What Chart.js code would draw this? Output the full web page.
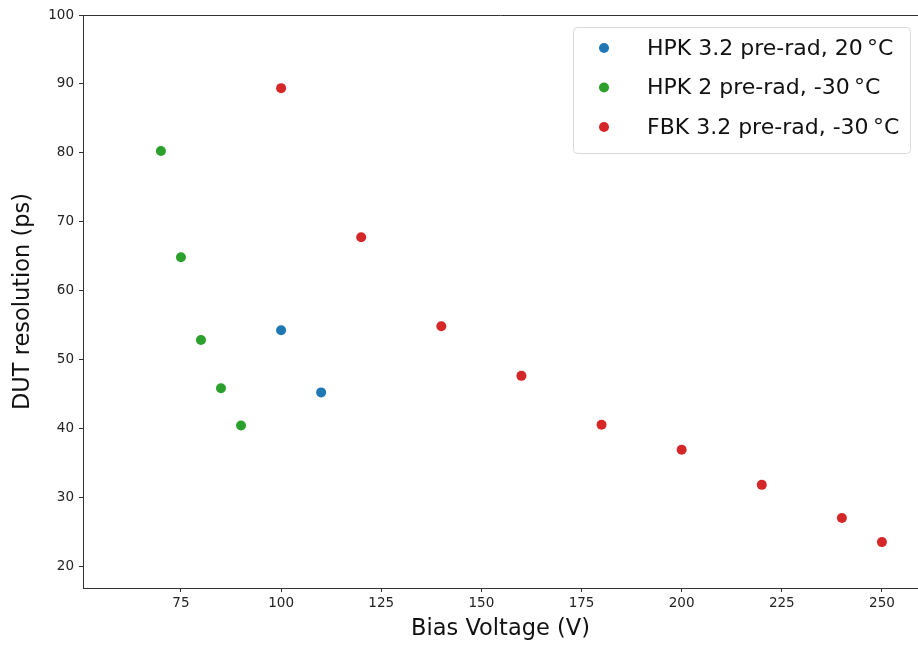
<!DOCTYPE html>
<html>
<head>
<meta charset="utf-8">
<script src="https://cdn.jsdelivr.net/npm/chart.js@4.4.1/dist/chart.umd.min.js"></script>
<style>
  html, body { margin: 0; padding: 0; background: #fff; overflow: hidden; }
  #wrap { width: 918px; height: 648px; overflow: hidden; }
</style>
</head>
<body>
<div id="wrap"><canvas id="resChart" width="923" height="648"></canvas></div>
<script>
// Series labels
const seriesLabels = ['HPK 3.2 pre-rad, 20\u2009\u00B0C', 'HPK 2 pre-rad, -30\u2009\u00B0C', 'FBK 3.2 pre-rad, -30\u2009\u00B0C'];

// HPK 3.2, 20C
const hpk32Voltage = [100, 110];
const hpk32Res = [54.3, 45.3];

// HPK 2, -30C
const hpk2Voltage = [70, 75, 80, 85, 90];
const hpk2Res = [80.3, 64.9, 52.9, 45.9, 40.5];

// FBK 3.2, -30C
const fbkVoltage = [100, 120, 140, 160, 180, 200, 220, 240, 250];
const fbkRes = [89.4, 67.8, 54.9, 47.7, 40.6, 37.0, 31.9, 27.1, 23.6];

// Tick labels
const xTicks = [75, 100, 125, 150, 175, 200, 225, 250];
const yTicks = [20, 30, 40, 50, 60, 70, 80, 90, 100];

const colors = ['#1f77b4', '#2ca02c', '#d62728'];
const FONT = "'DejaVu Sans', sans-serif";

function toPoints(xs, ys) {
    return xs.map((x, i) => ({ x: x, y: ys[i] }));
}

// top spine (matplotlib draws a box, right side falls off the image)
const topSpine = {
    id: 'topSpine',
    afterDraw(chart) {
        const { ctx, chartArea } = chart;
        ctx.save();
        ctx.strokeStyle = '#333';
        ctx.lineWidth = 1;
        ctx.beginPath();
        ctx.moveTo(chartArea.left, chartArea.top + 0.5);
        ctx.lineTo(chartArea.right, chartArea.top + 0.5);
        ctx.stroke();
        ctx.restore();
    }
};

// legend box in the upper right, drawn like matplotlib's
const boxLegend = {
    id: 'boxLegend',
    afterDraw(chart) {
        const ctx = chart.ctx;
        const x = 573.5, y = 27.5, w = 337, h = 126, r = 4;
        ctx.save();
        ctx.fillStyle = 'rgba(255,255,255,0.8)';
        ctx.strokeStyle = '#d9d9d9';
        ctx.lineWidth = 1;
        ctx.beginPath();
        ctx.roundRect(x, y, w, h, r);
        ctx.fill();
        ctx.stroke();
        ctx.font = '22px ' + FONT;
        ctx.textBaseline = 'middle';
        chart.data.datasets.forEach((ds, i) => {
            const cy = 48 + i * 39.5;
            ctx.fillStyle = ds.backgroundColor;
            ctx.beginPath();
            ctx.arc(604, cy, 5, 0, Math.PI * 2);
            ctx.fill();
            ctx.fillStyle = '#111';
            ctx.fillText(ds.label, 647, cy + 1);
        });
        ctx.restore();
    }
};

const ctx = document.getElementById('resChart').getContext('2d');
const resChart = new Chart(ctx, {
    type: 'scatter',
    data: {
        datasets: [
            { label: seriesLabels[0], data: toPoints(hpk32Voltage, hpk32Res), backgroundColor: colors[0], borderColor: colors[0] },
            { label: seriesLabels[1], data: toPoints(hpk2Voltage, hpk2Res), backgroundColor: colors[1], borderColor: colors[1] },
            { label: seriesLabels[2], data: toPoints(fbkVoltage, fbkRes), backgroundColor: colors[2], borderColor: colors[2] }
        ]
    },
    options: {
        responsive: false,
        animation: false,
        layout: { padding: { top: 15, right: 0, left: 0, bottom: 0 } },
        elements: { point: { radius: 5, borderWidth: 0, hoverRadius: 5 } },
        plugins: {
            legend: { display: false },
            tooltip: { enabled: false }
        },
        scales: {
            x: {
                type: 'linear',
                min: 50.55,
                max: 259,
                afterBuildTicks(scale) { scale.ticks = xTicks.map(v => ({ value: v })); },
                afterFit(scale) { scale.height = 60; },
                ticks: { font: { family: FONT, size: 13.5 }, color: '#222', padding: 3, maxRotation: 0 },
                grid: { drawOnChartArea: false, drawTicks: true, tickLength: 4, color: '#333' },
                border: { color: '#333', width: 1 },
                title: { display: true, text: 'Bias Voltage (V)', font: { family: FONT, size: 22.5 }, color: '#111', padding: { top: 0, bottom: 5 } }
            },
            y: {
                type: 'linear',
                min: 16.95,
                max: 100,
                afterBuildTicks(scale) { scale.ticks = yTicks.map(v => ({ value: v })); },
                afterFit(scale) { scale.width = 83; },
                ticks: { font: { family: FONT, size: 13.5 }, color: '#222', padding: 5 },
                grid: { drawOnChartArea: false, drawTicks: true, tickLength: 4, color: '#333' },
                border: { color: '#333', width: 1 },
                title: { display: true, text: 'DUT resolution (ps)', font: { family: FONT, size: 22.5 }, color: '#111', padding: { top: 10, bottom: 0 } }
            }
        }
    },
    plugins: [topSpine, boxLegend]
});
</script>
</body>
</html>
